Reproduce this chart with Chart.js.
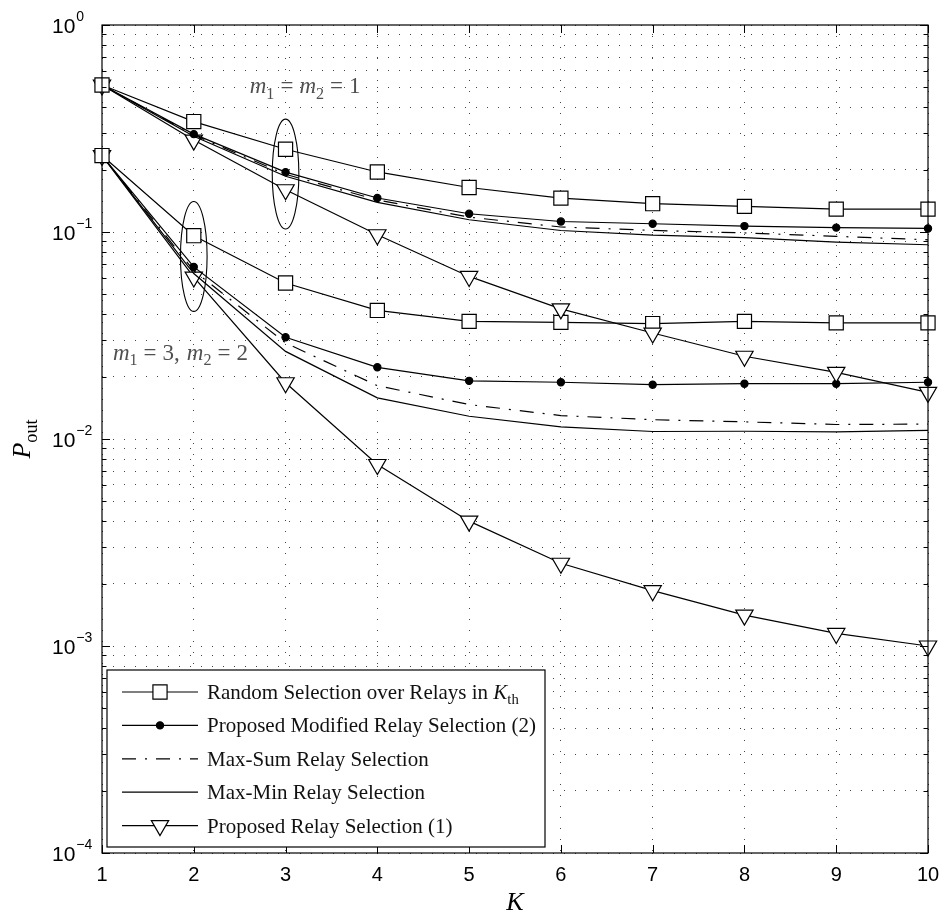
<!DOCTYPE html>
<html>
<head>
<meta charset="utf-8">
<script src="https://cdn.jsdelivr.net/npm/chart.js@4.4.0/dist/chart.umd.min.js"></script>
<style>
  html, body { margin: 0; padding: 0; background: #fff; }
  canvas { display: block; }
</style>
</head>
<body>
<canvas id="myChart" width="943" height="918"></canvas>
<script>
var K = [1, 2, 3, 4, 5, 6, 7, 8, 9, 10]
var decades = [-4, -3, -2, -1, 0]
var minorSteps = [1, 2, 3, 4, 5, 6, 7, 8, 9]

// m1 = m2 = 1
var randomG1   = [0.513, 0.3415, 0.251, 0.195, 0.164, 0.1458, 0.137, 0.133, 0.129, 0.129]
var modifiedG1 = [0.513, 0.297, 0.1946, 0.146, 0.1225, 0.1124, 0.1096, 0.1068, 0.105, 0.104]
var maxSumG1   = [0.513, 0.294, 0.19, 0.1428, 0.118, 0.1057, 0.1018, 0.099, 0.0953, 0.0917]
var maxMinG1   = [0.513, 0.29, 0.186, 0.139, 0.1146, 0.1017, 0.0965, 0.094, 0.0894, 0.0868]
var proposedG1 = [0.513, 0.278, 0.16, 0.097, 0.061, 0.0425, 0.0325, 0.0251, 0.021, 0.0168]

// m1 = 3, m2 = 2
var randomG2   = [0.234, 0.096, 0.0567, 0.0418, 0.037, 0.0366, 0.0361, 0.037, 0.0364, 0.0364]
var modifiedG2 = [0.234, 0.0678, 0.031, 0.0222, 0.0191, 0.0188, 0.0183, 0.0185, 0.0185, 0.0188]
var maxSumG2   = [0.234, 0.065, 0.0291, 0.0181, 0.01467, 0.01298, 0.0124, 0.0121, 0.01175, 0.0118]
var maxMinG2   = [0.234, 0.063, 0.0265, 0.0158, 0.01288, 0.01145, 0.01087, 0.0109, 0.01083, 0.011]
var proposedG2 = [0.234, 0.0606, 0.0187, 0.00753, 0.00401, 0.00251, 0.00185, 0.00141, 0.00115, 0.001]

var seriesNames = [
  'Random Selection over Relays in K_th',
  'Proposed Modified Relay Selection (2)',
  'Max-Sum Relay Selection',
  'Max-Min Relay Selection',
  'Proposed Relay Selection (1)'
]

var styles = [
  { pointStyle: 'rect', pointRadius: 10, pointBackgroundColor: '#fff', borderDash: [] },
  { pointStyle: 'circle', pointRadius: 3.6, pointBackgroundColor: '#000', borderDash: [] },
  { pointStyle: 'circle', pointRadius: 0, pointBackgroundColor: '#000', borderDash: [14, 9, 2, 9] },
  { pointStyle: 'circle', pointRadius: 0, pointBackgroundColor: '#000', borderDash: [] },
  { pointStyle: 'triangle', pointRadius: 10, pointBackgroundColor: '#fff', borderDash: [], pointRotation: 180 }
]

function series(values, i, name) {
  var s = styles[i]
  return {
    label: name,
    data: values.map(function (v, j) { return { x: K[j], y: v } }),
    borderColor: '#000',
    borderWidth: 1.2,
    borderDash: s.borderDash,
    pointStyle: s.pointStyle,
    pointRadius: s.pointRadius,
    pointRotation: s.pointRotation || 0,
    pointBackgroundColor: s.pointBackgroundColor,
    pointBorderColor: '#000',
    pointBorderWidth: 1.2,
    fill: false,
    tension: 0,
    clip: false
  }
}

var group1 = [randomG1, modifiedG1, maxSumG1, maxMinG1, proposedG1]
var group2 = [randomG2, modifiedG2, maxSumG2, maxMinG2, proposedG2]
var datasets = []
group1.forEach(function (v, i) { datasets.push(series(v, i, seriesNames[i])) })
group2.forEach(function (v, i) { datasets.push(series(v, i, seriesNames[i] + ' ')) })

// text with italic / subscript pieces: [text, 'i'|'r'|'s', gapBefore, gapAfter]
function measureRich(ctx, parts, size) {
  var w = 0
  parts.forEach(function (p) {
    var fs = p[1] === 's' ? size * 0.7 : size
    ctx.font = (p[1] === 'i' ? 'italic ' : '') + fs + 'px "Liberation Serif"'
    w += (p[2] || 0) + ctx.measureText(p[0]).width + (p[3] || 0)
  })
  return w
}
function drawRich(ctx, parts, x, y, size, color) {
  ctx.save()
  ctx.fillStyle = color
  ctx.textAlign = 'left'
  ctx.textBaseline = 'alphabetic'
  parts.forEach(function (p) {
    var fs = p[1] === 's' ? size * 0.7 : size
    ctx.font = (p[1] === 'i' ? 'italic ' : '') + fs + 'px "Liberation Serif"'
    x += p[2] || 0
    ctx.fillText(p[0], x, y + (p[1] === 's' ? size * 0.25 : 0))
    x += ctx.measureText(p[0]).width + (p[3] || 0)
  })
  ctx.restore()
  return x
}

function legendMarker(ctx, i, x, y) {
  var s = styles[i]
  if (!s.pointRadius) return
  ctx.save()
  ctx.lineWidth = 1.2
  ctx.strokeStyle = '#000'
  ctx.fillStyle = s.pointBackgroundColor
  ctx.beginPath()
  if (s.pointStyle === 'rect') {
    var h = s.pointRadius * Math.SQRT1_2
    ctx.rect(x - h, y - h, 2 * h, 2 * h)
  } else if (s.pointStyle === 'circle') {
    ctx.arc(x, y, s.pointRadius, 0, Math.PI * 2)
  } else {
    var r = s.pointRadius
    ctx.moveTo(x, y + r)
    ctx.lineTo(x - r * Math.sin(Math.PI / 3), y - r / 2)
    ctx.lineTo(x + r * Math.sin(Math.PI / 3), y - r / 2)
    ctx.closePath()
  }
  ctx.fill()
  ctx.stroke()
  ctx.restore()
}

var decor = {
  id: 'decor',
  afterDraw: function (chart) {
    var ctx = chart.ctx
    var a = chart.chartArea
    var xs = chart.scales.x
    var ys = chart.scales.y

    // ellipses around the two groups
    ctx.save()
    ctx.strokeStyle = '#000'
    ctx.lineWidth = 1.1
    ;[[3, 0.1904], [2, 0.0762]].forEach(function (e) {
      var cx = xs.getPixelForValue(e[0])
      var cy = ys.getPixelForValue(e[1])
      var ry = cy - ys.getPixelForValue(e[1] * Math.pow(10, 0.2654))
      var rx = xs.getPixelForValue(e[0] + 0.145) - cx
      ctx.beginPath()
      ctx.ellipse(cx, cy, rx, ry, 0, 0, Math.PI * 2)
      ctx.stroke()
    })
    ctx.restore()

    // group annotations
    var eq = ['=', 'r', 6, 6]
    drawRich(ctx, [['m', 'i'], ['1', 's'], eq, ['m', 'i'], ['2', 's'], eq, ['1', 'r']],
      xs.getPixelForValue(2.61), ys.getPixelForValue(0.47), 23, '#505050')
    var g2 = [['m', 'i'], ['1', 's'], eq, ['3', 'r'], [',', 'r', 0, 7], ['m', 'i'], ['2', 's'], eq, ['2', 'r']]
    var g2w = measureRich(ctx, g2, 23)
    drawRich(ctx, g2, xs.getPixelForValue(2.59) - g2w, ys.getPixelForValue(0.0242), 23, '#505050')

    // box
    ctx.save()
    ctx.strokeStyle = '#000'
    ctx.lineWidth = 1.2
    ctx.strokeRect(a.left, a.top, a.right - a.left, a.bottom - a.top)

    // inward tick marks
    ctx.beginPath()
    ys.ticks.forEach(function (t) {
      var y = Math.round(ys.getPixelForValue(t.value)) + 0.5
      var major = Math.abs(Math.log10(t.value) - Math.round(Math.log10(t.value))) < 1e-6
      var len = major ? 8 : 4.5
      ctx.moveTo(a.left, y); ctx.lineTo(a.left + len, y)
      ctx.moveTo(a.right, y); ctx.lineTo(a.right - len, y)
    })
    K.forEach(function (k) {
      var x = Math.round(xs.getPixelForValue(k)) + 0.5
      ctx.moveTo(x, a.bottom); ctx.lineTo(x, a.bottom - 8)
      ctx.moveTo(x, a.top); ctx.lineTo(x, a.top + 8)
    })
    ctx.lineWidth = 1
    ctx.stroke()
    ctx.restore()

    // legend box inside the plot, bottom left
    var lx = a.left + 5, lw = 438, lh = 177
    var ly = a.bottom - 6 - lh
    ctx.save()
    ctx.fillStyle = '#fff'
    ctx.fillRect(lx, ly, lw, lh)
    ctx.strokeStyle = '#000'
    ctx.lineWidth = 1.2
    ctx.strokeRect(lx, ly, lw, lh)
    seriesNames.forEach(function (name, i) {
      var y = ly + 22 + i * 33.4
      var s = styles[i]
      ctx.save()
      ctx.strokeStyle = '#000'
      ctx.lineWidth = 1.2
      ctx.setLineDash(s.borderDash)
      ctx.beginPath()
      ctx.moveTo(lx + 15, y); ctx.lineTo(lx + 91, y)
      ctx.stroke()
      ctx.restore()
      legendMarker(ctx, i, lx + 53, y)
      var parts
      if (i === 0) parts = [['Random Selection over Relays in ', 'r'], ['K', 'i'], ['th', 's']]
      else parts = [[name, 'r']]
      drawRich(ctx, parts, lx + 100, y + 7, 21, '#111')
    })
    ctx.restore()

    // y tick labels 10^n
    ctx.save()
    ctx.fillStyle = '#000'
    ctx.textAlign = 'left'
    ctx.textBaseline = 'middle'
    decades.forEach(function (e) {
      var y = ys.getPixelForValue(Math.pow(10, e))
      ctx.font = '21px "Liberation Sans"'
      ctx.fillText('10', 52, y + 2)
      var w = ctx.measureText('10').width
      ctx.font = '14px "Liberation Sans"'
      ctx.fillText(e === 0 ? '0' : '\u2212' + (-e), 52 + w + 1, y - 8)
    })
    ctx.restore()

    // axis titles
    ctx.save()
    ctx.translate(22, (a.top + a.bottom) / 2)
    ctx.rotate(-Math.PI / 2)
    var pParts = [['P', 'i'], ['out', 's']]
    var pw = measureRich(ctx, pParts, 26)
    drawRich(ctx, pParts, -pw / 2, 8, 26, '#000')
    ctx.restore()
    var kw = measureRich(ctx, [['K', 'i']], 26)
    drawRich(ctx, [['K', 'i']], (a.left + a.right) / 2 - kw / 2, 910, 26, '#000')
  }
}

var ctx = document.getElementById('myChart').getContext('2d')
var myChart = new Chart(ctx, {
  type: 'line',
  data: { datasets: datasets },
  options: {
    responsive: false,
    animation: false,
    devicePixelRatio: 1,
    layout: { padding: { left: 102, right: 15, top: 25, bottom: 21 } },
    plugins: { legend: { display: false }, tooltip: { enabled: false } },
    scales: {
      x: {
        type: 'linear',
        min: 1,
        max: 10,
        afterFit: function (axis) {
          axis.paddingLeft = 0
          axis.paddingRight = 0
        },
        ticks: { stepSize: 1, color: '#000', padding: 10, font: { family: 'Liberation Sans', size: 20 } },
        grid: { color: '#444', lineWidth: 1, drawTicks: false },
        border: { display: false, dash: [1, 10] }
      },
      y: {
        type: 'logarithmic',
        min: 1e-4,
        max: 1,
        afterBuildTicks: function (axis) {
          var t = []
          decades.forEach(function (e) {
            if (e === 0) { t.push({ value: 1 }); return }
            minorSteps.forEach(function (m) { t.push({ value: m * Math.pow(10, e) }) })
          })
          axis.ticks = t
        },
        ticks: { display: false },
        grid: { color: '#444', lineWidth: 1, drawTicks: false },
        border: { display: false, dash: [1, 10] }
      }
    }
  },
  plugins: [decor]
})
</script>
</body>
</html>
